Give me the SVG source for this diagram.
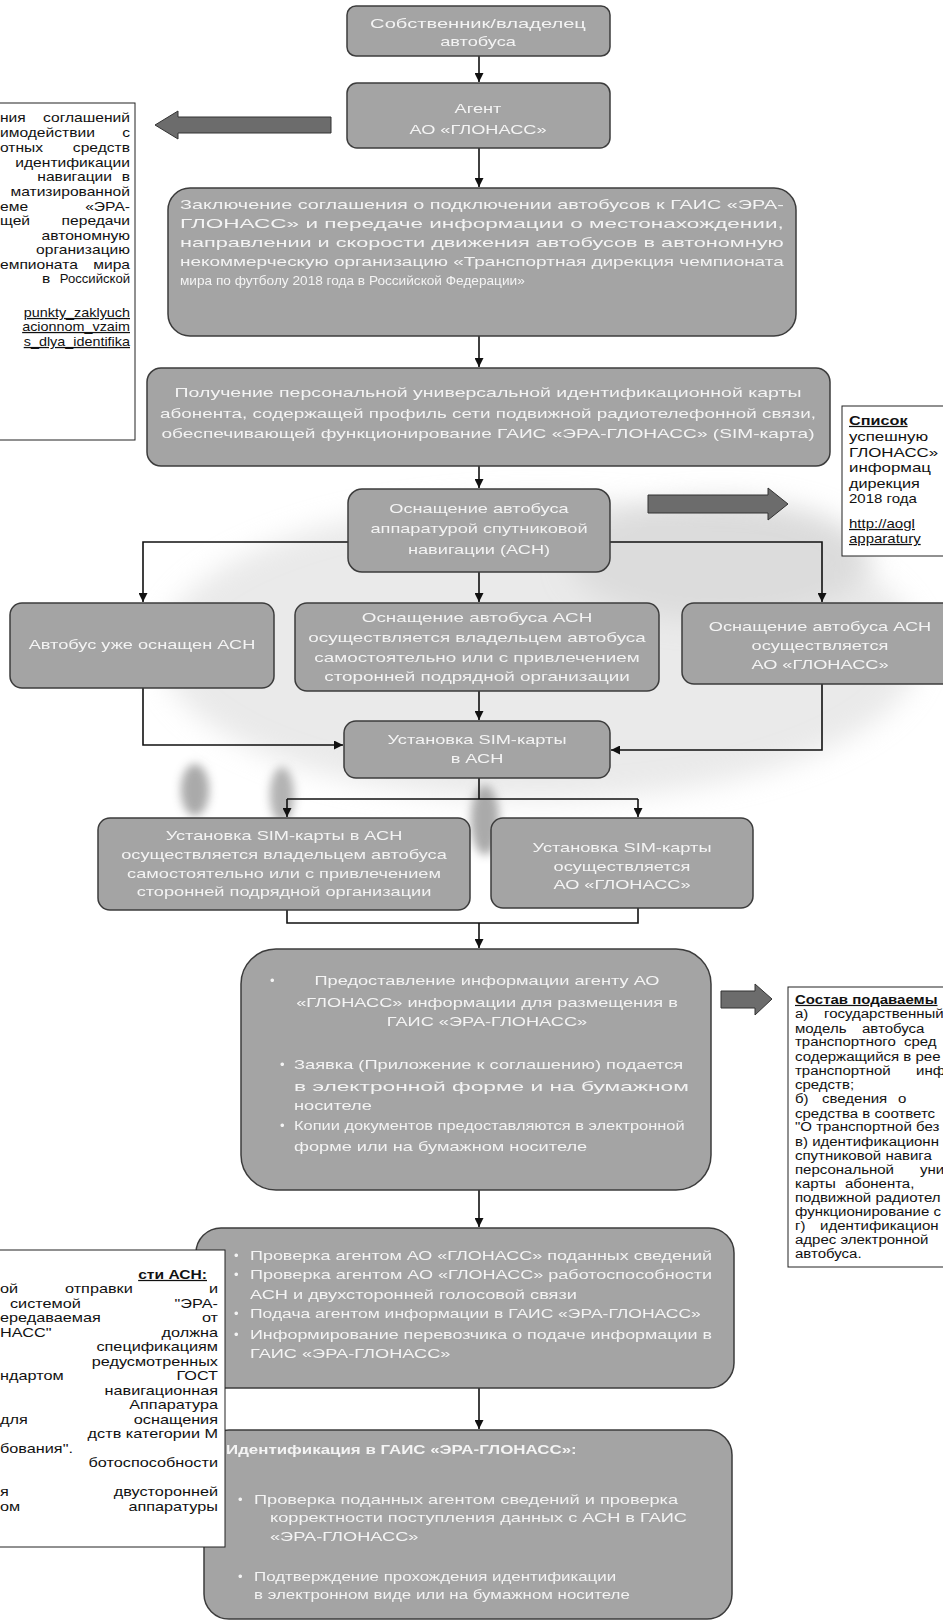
<svg xmlns="http://www.w3.org/2000/svg" width="943" height="1622" viewBox="0 0 943 1622">
<style>
.box{fill:#a4a4a4;stroke:#3c3c3c;stroke-width:1.5}
.bt{font-family:"Liberation Sans",Arial,sans-serif;font-size:13px;fill:#f4f4f4}
.bb{font-weight:bold}
.note{fill:#ffffff;stroke:#222;stroke-width:1}
.n{font-family:"Liberation Sans",Arial,sans-serif;font-size:12.5px;fill:#111}
.n3{font-family:"Liberation Sans",Arial,sans-serif;font-size:12px;fill:#111}
.h{font-weight:bold;text-decoration:underline}
.u{text-decoration:underline}
.c{stroke:#111;stroke-width:1.6;fill:none}
.ca{stroke:#111;stroke-width:1.6;fill:none;marker-end:url(#ah)}
.blk{fill:#6c6c6c;stroke:#333;stroke-width:1}
</style>
<defs>
<marker id="ah" viewBox="0 0 10 10" refX="10" refY="5" markerWidth="9" markerHeight="9" markerUnits="userSpaceOnUse" orient="auto"><path d="M0,0 L10,5 L0,10 z" fill="#111"/></marker>
<filter id="bl" x="-50%" y="-50%" width="200%" height="200%"><feGaussianBlur stdDeviation="14"/></filter>
<filter id="bl2" x="-50%" y="-50%" width="200%" height="200%"><feGaussianBlur stdDeviation="5"/></filter>
</defs>
<rect width="943" height="1622" fill="#ffffff"/>

<g id="bg" opacity="0.5">
<ellipse cx="540" cy="650" rx="380" ry="150" fill="#d4d4d4" filter="url(#bl)"/>
<ellipse cx="720" cy="560" rx="150" ry="60" fill="#b8b8b8" filter="url(#bl)"/>
<ellipse cx="195" cy="790" rx="14" ry="26" fill="#555" filter="url(#bl2)"/>
<ellipse cx="282" cy="795" rx="12" ry="28" fill="#666" filter="url(#bl2)"/>
<ellipse cx="485" cy="820" rx="14" ry="35" fill="#555" filter="url(#bl2)"/>
</g>

<g id="connectors">
<path class="ca" d="M479 56 V82"/>
<path class="ca" d="M479 148 V187"/>
<path class="ca" d="M479 336 V367"/>
<path class="ca" d="M479 466 V488"/>
<path class="ca" d="M348 542 H143 V602"/>
<path class="ca" d="M610 542 H822 V602"/>
<path class="ca" d="M479 572 V602"/>
<path class="ca" d="M479 691 V720"/>
<path class="ca" d="M143 688 V745 H343"/>
<path class="ca" d="M822 684 V750 H611"/>
<path class="c" d="M479 778 V799"/>
<path class="c" d="M287 799 H638"/>
<path class="ca" d="M287 799 V817"/>
<path class="ca" d="M638 799 V817"/>
<path class="c" d="M287 910 V923 H638 V908"/>
<path class="ca" d="M479 923 V948"/>
<path class="ca" d="M479 1190 V1227"/>
<path class="ca" d="M479 1388 V1429"/>
<polygon class="blk" points="155,125 178,111 178,117 331,117 331,133 178,133 178,139"/>
<polygon class="blk" points="648,495 768,495 768,488 788,504 768,520 768,513 648,513"/>
<polygon class="blk" points="721,991 755,991 755,984 772,999 755,1015 755,1008 721,1008"/>
<polygon class="blk" points="157,1373 174,1358 174,1366 192,1366 192,1380 174,1380 174,1388"/>
</g>

<g id="n1">
<rect class="box" x="347" y="6" width="263" height="50" rx="9"/>
<text class="bt" transform="translate(478 28) scale(1.55 1)" text-anchor="middle">Собственник/владелец</text>
<text class="bt" transform="translate(478 46) scale(1.4 1)" text-anchor="middle">автобуса</text>
</g>

<g id="n2">
<rect class="box" x="347" y="83" width="263" height="65" rx="10"/>
<text class="bt" transform="translate(478 113) scale(1.4 1)" text-anchor="middle">Агент</text>
<text class="bt" transform="translate(478 134) scale(1.4 1)" text-anchor="middle">АО «ГЛОНАСС»</text>
</g>

<g id="n3">
<rect class="box" x="168" y="188" width="628" height="148" rx="22"/>
<text class="bt" transform="translate(180 209) scale(1.25 1)" textLength="483" lengthAdjust="spacingAndGlyphs">Заключение соглашения о подключении автобусов к ГАИС «ЭРА-</text>
<text class="bt" transform="translate(180 228) scale(1.25 1)" textLength="483" lengthAdjust="spacingAndGlyphs">ГЛОНАСС» и передаче информации о местонахождении,</text>
<text class="bt" transform="translate(180 247) scale(1.25 1)" textLength="483" lengthAdjust="spacingAndGlyphs">направлении и скорости движения автобусов в автономную</text>
<text class="bt" transform="translate(180 266) scale(1.25 1)" textLength="483" lengthAdjust="spacingAndGlyphs">некоммерческую организацию «Транспортная дирекция чемпионата</text>
<text class="bt" transform="translate(180 285) scale(1.05 1)">мира по футболу 2018 года в Российской Федерации»</text>
</g>

<g id="n4">
<rect class="box" x="147" y="368" width="683" height="98" rx="14"/>
<text class="bt" transform="translate(488 397) scale(1.5 1)" text-anchor="middle">Получение персональной универсальной идентификационной карты</text>
<text class="bt" transform="translate(488 418) scale(1.45 1)" text-anchor="middle">абонента, содержащей профиль сети подвижной радиотелефонной связи,</text>
<text class="bt" transform="translate(488 438) scale(1.47 1)" text-anchor="middle">обеспечивающей функционирование ГАИС «ЭРА-ГЛОНАСС» (SIM-карта)</text>
</g>

<g id="n5">
<rect class="box" x="348" y="489" width="262" height="83" rx="14"/>
<text class="bt" transform="translate(479 513) scale(1.4 1)" text-anchor="middle">Оснащение автобуса</text>
<text class="bt" transform="translate(479 533) scale(1.4 1)" text-anchor="middle">аппаратурой спутниковой</text>
<text class="bt" transform="translate(479 554) scale(1.4 1)" text-anchor="middle">навигации (АСН)</text>
</g>

<g id="n6">
<rect class="box" x="10" y="603" width="264" height="85" rx="12"/>
<text class="bt" transform="translate(142 649) scale(1.4 1)" text-anchor="middle">Автобус уже оснащен АСН</text>
</g>

<g id="n7">
<rect class="box" x="295" y="603" width="364" height="88" rx="12"/>
<text class="bt" transform="translate(477 622) scale(1.45 1)" text-anchor="middle">Оснащение автобуса АСН</text>
<text class="bt" transform="translate(477 642) scale(1.45 1)" text-anchor="middle">осуществляется владельцем автобуса</text>
<text class="bt" transform="translate(477 662) scale(1.45 1)" text-anchor="middle">самостоятельно или с привлечением</text>
<text class="bt" transform="translate(477 681) scale(1.45 1)" text-anchor="middle">сторонней подрядной организации</text>
</g>

<g id="n8">
<rect class="box" x="682" y="603" width="290" height="81" rx="12"/>
<text class="bt" transform="translate(820 631) scale(1.4 1)" text-anchor="middle">Оснащение автобуса АСН</text>
<text class="bt" transform="translate(820 650) scale(1.4 1)" text-anchor="middle">осуществляется</text>
<text class="bt" transform="translate(820 669) scale(1.4 1)" text-anchor="middle">АО «ГЛОНАСС»</text>
</g>

<g id="n9">
<rect class="box" x="344" y="721" width="266" height="57" rx="12"/>
<text class="bt" transform="translate(477 744) scale(1.4 1)" text-anchor="middle">Установка SIM-карты</text>
<text class="bt" transform="translate(477 763) scale(1.4 1)" text-anchor="middle">в АСН</text>
</g>

<g id="n10">
<rect class="box" x="98" y="818" width="372" height="92" rx="12"/>
<text class="bt" transform="translate(284 840) scale(1.4 1)" text-anchor="middle">Установка SIM-карты в АСН</text>
<text class="bt" transform="translate(284 859) scale(1.4 1)" text-anchor="middle">осуществляется владельцем автобуса</text>
<text class="bt" transform="translate(284 878) scale(1.4 1)" text-anchor="middle">самостоятельно или с привлечением</text>
<text class="bt" transform="translate(284 896) scale(1.4 1)" text-anchor="middle">сторонней подрядной организации</text>
</g>

<g id="n11">
<rect class="box" x="491" y="818" width="262" height="90" rx="12"/>
<text class="bt" transform="translate(622 852) scale(1.4 1)" text-anchor="middle">Установка SIM-карты</text>
<text class="bt" transform="translate(622 871) scale(1.4 1)" text-anchor="middle">осуществляется</text>
<text class="bt" transform="translate(622 889) scale(1.4 1)" text-anchor="middle">АО «ГЛОНАСС»</text>
</g>

<g id="n12">
<rect class="box" x="241" y="949" width="470" height="241" rx="35"/>
<text class="bt" x="270" y="985">•</text>
<text class="bt" transform="translate(487 985) scale(1.4 1)" text-anchor="middle">Предоставление информации агенту АО</text>
<text class="bt" transform="translate(487 1007) scale(1.4 1)" text-anchor="middle">«ГЛОНАСС» информации для размещения в</text>
<text class="bt" transform="translate(487 1026) scale(1.4 1)" text-anchor="middle">ГАИС «ЭРА-ГЛОНАСС»</text>
<text class="bt" x="280" y="1069">•</text>
<text class="bt" transform="translate(294 1069) scale(1.4 1)" textLength="278" lengthAdjust="spacingAndGlyphs">Заявка (Приложение к соглашению) подается</text>
<text class="bt" transform="translate(294 1091) scale(1.4 1)" textLength="282" lengthAdjust="spacingAndGlyphs">в электронной форме и на бумажном</text>
<text class="bt" transform="translate(294 1110) scale(1.4 1)">носителе</text>
<text class="bt" x="280" y="1130">•</text>
<text class="bt" transform="translate(294 1130) scale(1.4 1)" textLength="279" lengthAdjust="spacingAndGlyphs">Копии документов предоставляются в электронной</text>
<text class="bt" transform="translate(294 1151) scale(1.4 1)">форме или на бумажном носителе</text>
</g>

<g id="n13">
<rect class="box" x="196" y="1228" width="538" height="160" rx="25"/>
<text class="bt" x="234" y="1260">•</text>
<text class="bt" transform="translate(250 1260) scale(1.4 1)" textLength="330" lengthAdjust="spacingAndGlyphs">Проверка агентом АО «ГЛОНАСС» поданных сведений</text>
<text class="bt" x="234" y="1279">•</text>
<text class="bt" transform="translate(250 1279) scale(1.4 1)" textLength="330" lengthAdjust="spacingAndGlyphs">Проверка агентом АО «ГЛОНАСС» работоспособности</text>
<text class="bt" transform="translate(250 1299) scale(1.4 1)">АСН и двухсторонней голосовой связи</text>
<text class="bt" x="234" y="1318">•</text>
<text class="bt" transform="translate(250 1318) scale(1.4 1)" textLength="322" lengthAdjust="spacingAndGlyphs">Подача агентом информации в ГАИС «ЭРА-ГЛОНАСС»</text>
<text class="bt" x="234" y="1339">•</text>
<text class="bt" transform="translate(250 1339) scale(1.4 1)" textLength="330" lengthAdjust="spacingAndGlyphs">Информирование перевозчика о подаче информации в</text>
<text class="bt" transform="translate(250 1358) scale(1.4 1)">ГАИС «ЭРА-ГЛОНАСС»</text>
</g>

<g id="n14">
<rect class="box" x="204" y="1430" width="528" height="189" rx="25"/>
<text class="bt bb" transform="translate(226 1454) scale(1.3 1)">Идентификация в ГАИС «ЭРА-ГЛОНАСС»:</text>
<text class="bt" x="238" y="1504">•</text>
<text class="bt" transform="translate(254 1504) scale(1.4 1)">Проверка поданных агентом сведений и проверка</text>
<text class="bt" transform="translate(270 1522) scale(1.4 1)">корректности поступления данных с АСН в ГАИС</text>
<text class="bt" transform="translate(270 1541) scale(1.4 1)">«ЭРА-ГЛОНАСС»</text>
<text class="bt" x="238" y="1581">•</text>
<text class="bt" transform="translate(254 1581) scale(1.3 1)">Подтверждение прохождения идентификации</text>
<text class="bt" transform="translate(254 1599) scale(1.3 1)">в электронном виде или на бумажном носителе</text>
</g>

<g id="note1">
<rect class="note" x="-2" y="103" width="137" height="337"/>
<text class="n" transform="translate(0 122) scale(1.25 1)">ния</text><text class="n" transform="translate(130 122) scale(1.25 1)" text-anchor="end">соглашений</text>
<text class="n" transform="translate(0 137) scale(1.25 1)">имодействии</text><text class="n" transform="translate(130 137) scale(1.25 1)" text-anchor="end">с</text>
<text class="n" transform="translate(0 152) scale(1.25 1)">отных</text><text class="n" transform="translate(130 152) scale(1.25 1)" text-anchor="end">средств</text>
<text class="n" transform="translate(130 167) scale(1.25 1)" text-anchor="end">идентификации</text>
<text class="n" transform="translate(112 181) scale(1.25 1)" text-anchor="end">навигации</text><text class="n" transform="translate(130 181) scale(1.25 1)" text-anchor="end">в</text>
<text class="n" transform="translate(130 196) scale(1.25 1)" text-anchor="end">матизированной</text>
<text class="n" transform="translate(0 211) scale(1.25 1)">еме</text><text class="n" transform="translate(130 211) scale(1.25 1)" text-anchor="end">«ЭРА-</text>
<text class="n" transform="translate(0 225) scale(1.25 1)">щей</text><text class="n" transform="translate(130 225) scale(1.25 1)" text-anchor="end">передачи</text>
<text class="n" transform="translate(130 240) scale(1.25 1)" text-anchor="end">автономную</text>
<text class="n" transform="translate(130 254) scale(1.25 1)" text-anchor="end">организацию</text>
<text class="n" transform="translate(0 269) scale(1.25 1)">емпионата</text><text class="n" transform="translate(130 269) scale(1.25 1)" text-anchor="end">мира</text>
<text class="n" transform="translate(42 283) scale(1.25 1)">в</text><text class="n" transform="translate(130 283) scale(1.05 1)" text-anchor="end">Российской</text>
<text class="n u" transform="translate(130 317) scale(1.15 1)" text-anchor="end">punkty_zaklyuch</text>
<text class="n u" transform="translate(130 331) scale(1.15 1)" text-anchor="end">acionnom_vzaim</text>
<text class="n u" transform="translate(130 346) scale(1.15 1)" text-anchor="end">s_dlya_identifika</text>
</g>

<g id="note2">
<rect class="note" x="842" y="406" width="120" height="150"/>
<text class="n h" transform="translate(849 425) scale(1.3 1)">Список</text>
<text class="n" transform="translate(849 441) scale(1.35 1)">успешную</text>
<text class="n" transform="translate(849 457) scale(1.35 1)">ГЛОНАСС»</text>
<text class="n" transform="translate(849 472) scale(1.35 1)">информац</text>
<text class="n" transform="translate(849 488) scale(1.3 1)">дирекция</text>
<text class="n" transform="translate(849 503) scale(1.2 1)">2018 года</text>
<text class="n u" transform="translate(849 528) scale(1.2 1)">http://aogl</text>
<text class="n u" transform="translate(849 543) scale(1.2 1)">apparatury</text>
</g>

<g id="note3">
<rect class="note" x="788" y="987" width="170" height="280"/>
<text class="n3 h" transform="translate(795 1004) scale(1.25 1)">Состав подаваемы</text>
<text class="n3" transform="translate(795 1018) scale(1.25 1)">а)</text><text class="n3" transform="translate(824 1018) scale(1.25 1)">государственный</text>
<text class="n3" transform="translate(795 1033) scale(1.25 1)">модель</text><text class="n3" transform="translate(862 1033) scale(1.25 1)">автобуса</text>
<text class="n3" transform="translate(795 1046) scale(1.25 1)">транспортного</text><text class="n3" transform="translate(904 1046) scale(1.25 1)">сред</text>
<text class="n3" transform="translate(795 1061) scale(1.25 1)">содержащийся в рее</text>
<text class="n3" transform="translate(795 1075) scale(1.25 1)">транспортной</text><text class="n3" transform="translate(916 1075) scale(1.25 1)">инф</text>
<text class="n3" transform="translate(795 1089) scale(1.25 1)">средств;</text>
<text class="n3" transform="translate(795 1103) scale(1.25 1)">б)</text><text class="n3" transform="translate(822 1103) scale(1.25 1)">сведения</text><text class="n3" transform="translate(898 1103) scale(1.25 1)">о</text>
<text class="n3" transform="translate(795 1118) scale(1.25 1)">средства в соответс</text>
<text class="n3" transform="translate(795 1131) scale(1.25 1)">"О транспортной без</text>
<text class="n3" transform="translate(795 1146) scale(1.25 1)">в) идентификационн</text>
<text class="n3" transform="translate(795 1160) scale(1.25 1)">спутниковой навига</text>
<text class="n3" transform="translate(795 1174) scale(1.25 1)">персональной</text><text class="n3" transform="translate(920 1174) scale(1.25 1)">уни</text>
<text class="n3" transform="translate(795 1188) scale(1.25 1)">карты</text><text class="n3" transform="translate(845 1188) scale(1.25 1)">абонента,</text>
<text class="n3" transform="translate(795 1202) scale(1.25 1)">подвижной радиотел</text>
<text class="n3" transform="translate(795 1216) scale(1.25 1)">функционирование с</text>
<text class="n3" transform="translate(795 1230) scale(1.25 1)">г)</text><text class="n3" transform="translate(820 1230) scale(1.25 1)">идентификацион</text>
<text class="n3" transform="translate(795 1244) scale(1.25 1)">адрес электронной</text>
<text class="n3" transform="translate(795 1258) scale(1.25 1)">автобуса.</text>
</g>

<g id="note4">
<rect class="note" x="-2" y="1250" width="227" height="297"/>
<text class="n h" transform="translate(207 1279) scale(1.25 1)" text-anchor="end">сти АСН:</text>
<text class="n" transform="translate(0 1293) scale(1.3 1)">ой</text><text class="n" transform="translate(65 1293) scale(1.3 1)">отправки</text><text class="n" transform="translate(218 1293) scale(1.3 1)" text-anchor="end">и</text>
<text class="n" transform="translate(10 1308) scale(1.3 1)">системой</text><text class="n" transform="translate(218 1308) scale(1.3 1)" text-anchor="end">"ЭРА-</text>
<text class="n" transform="translate(0 1322) scale(1.3 1)">ередаваемая</text><text class="n" transform="translate(218 1322) scale(1.3 1)" text-anchor="end">от</text>
<text class="n" transform="translate(0 1337) scale(1.3 1)">НАСС"</text><text class="n" transform="translate(218 1337) scale(1.3 1)" text-anchor="end">должна</text>
<text class="n" transform="translate(218 1351) scale(1.3 1)" text-anchor="end">спецификациям</text>
<text class="n" transform="translate(218 1366) scale(1.3 1)" text-anchor="end">редусмотренных</text>
<text class="n" transform="translate(0 1380) scale(1.3 1)">ндартом</text><text class="n" transform="translate(218 1380) scale(1.3 1)" text-anchor="end">ГОСТ</text>
<text class="n" transform="translate(218 1395) scale(1.3 1)" text-anchor="end">навигационная</text>
<text class="n" transform="translate(218 1409) scale(1.3 1)" text-anchor="end">Аппаратура</text>
<text class="n" transform="translate(0 1424) scale(1.3 1)">для</text><text class="n" transform="translate(218 1424) scale(1.3 1)" text-anchor="end">оснащения</text>
<text class="n" transform="translate(218 1438) scale(1.3 1)" text-anchor="end">дств категории М</text>
<text class="n" transform="translate(0 1453) scale(1.3 1)">бования".</text>
<text class="n" transform="translate(218 1467) scale(1.3 1)" text-anchor="end">ботоспособности</text>
<text class="n" transform="translate(0 1496) scale(1.3 1)">я</text><text class="n" transform="translate(218 1496) scale(1.3 1)" text-anchor="end">двусторонней</text>
<text class="n" transform="translate(0 1511) scale(1.3 1)">ом</text><text class="n" transform="translate(218 1511) scale(1.3 1)" text-anchor="end">аппаратуры</text>
</g>
</svg>
